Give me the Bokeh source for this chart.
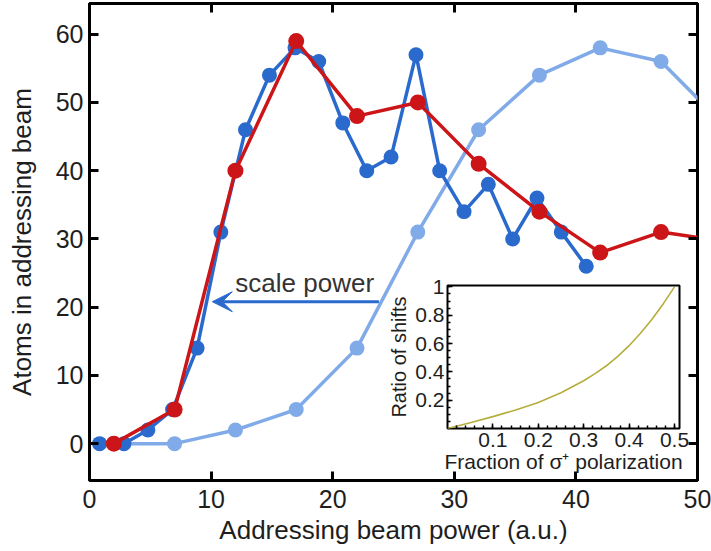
from bokeh.plotting import figure
from bokeh.models import (LinearAxis, FixedTicker, Arrow, VeeHead, Label,
                          NumeralTickFormatter, CustomJSTickFormatter)
from bokeh.layouts import column
from bokeh.embed import file_html
from bokeh.resources import INLINE

# ---- data ----
scaled_x = [0.83, 2.83, 4.8, 6.83, 8.85, 10.8, 12.83, 14.8, 16.9, 18.85, 20.83,
            22.8, 24.8, 26.85, 28.8, 30.8, 32.8, 34.8, 36.8, 38.8, 40.85]
scaled_y = [0, 0, 2, 5, 14, 31, 46, 54, 58, 56, 47, 40, 42, 57, 40, 34, 38, 30, 36, 31, 26]

red_x = [2, 7, 12, 17, 22, 27, 32, 37, 42, 47, 52]
red_y = [0, 5, 40, 59, 48, 50, 41, 34, 28, 31, 29.7]

light_x = [2, 7, 12, 17, 22, 27, 32, 37, 42, 47, 52]
light_y = [0, 0, 2, 5, 14, 31, 46, 54, 58, 56, 47]

x_ticks = [0, 10, 20, 30, 40, 50]
y_ticks = [0, 10, 20, 30, 40, 50, 60]

inset_frac = [0, 0.05, 0.1, 0.15, 0.2, 0.25, 0.3, 0.325, 0.35, 0.375,
              0.4, 0.425, 0.45, 0.475, 0.5]
inset_ratio = [0, 0.041, 0.084, 0.13, 0.184, 0.252, 0.337, 0.388, 0.443, 0.51,
               0.585, 0.673, 0.77, 0.88, 1.0]
inset_x_ticks = [0.1, 0.2, 0.3, 0.4, 0.5]
inset_y_ticks = [0.2, 0.4, 0.6, 0.8, 1.0]

arrow_start = (23.8, 20.8)
arrow_end = (10.1, 20.8)
label_pos = (17.7, 23.5)

# ---- colours / fonts ----
DARK = "#2a6acd"
RED = "#cc1518"
LIGHT = "#80abe8"
OLIVE = "#b5ad3c"
TXT = "#1e1e1e"
FONT = "Liberation Sans"

# main frame placement on the page
FR_L, FR_T, FR_W, FR_H = 89, 3, 608, 477
M_L, M_T, M_R, M_B = 110, 20, 14, 71

p = figure(frame_width=FR_W, frame_height=FR_H, x_range=(0, 50), y_range=(-5.4, 64.5),
           output_backend="svg", toolbar_location=None,
           min_border_left=M_L, min_border_right=M_R, min_border_top=M_T,
           min_border_bottom=M_B)
p.grid.visible = False
p.outline_line_color = "black"
p.outline_line_width = 3
p.background_fill_color = "white"

# main axes
p.xaxis.ticker = FixedTicker(ticks=x_ticks)
p.yaxis.ticker = FixedTicker(ticks=y_ticks)
for ax in (p.xaxis[0], p.yaxis[0]):
    ax.axis_line_color = None
    ax.minor_tick_line_color = None
    ax.minor_tick_out = 0
    ax.major_tick_in = 9
    ax.major_tick_out = 0
    ax.major_tick_line_width = 3
    ax.major_label_text_font = FONT
    ax.major_label_text_font_size = "25px"
    ax.major_label_text_color = TXT
    ax.axis_label_text_font = FONT
    ax.axis_label_text_font_size = "26px"
    ax.axis_label_text_font_style = "normal"
    ax.axis_label_text_color = TXT
p.xaxis.major_label_standoff = 9
p.yaxis.major_label_standoff = 6
p.xaxis.axis_label = "Addressing beam power (a.u.)"
p.xaxis.axis_label_standoff = 4
p.yaxis.axis_label = "Atoms in addressing beam"
p.yaxis.axis_label_standoff = 16

blank = CustomJSTickFormatter(code="return ''")
top_ax = LinearAxis(ticker=FixedTicker(ticks=x_ticks), major_tick_in=9, major_tick_out=0,
                    minor_tick_out=0, major_tick_line_width=3, axis_line_color=None,
                    minor_tick_line_color=None, formatter=blank,
                    major_label_standoff=0)
right_ax = LinearAxis(ticker=FixedTicker(ticks=y_ticks), major_tick_in=9, major_tick_out=0,
                      minor_tick_out=0, major_tick_line_width=3, axis_line_color=None,
                      minor_tick_line_color=None, formatter=blank,
                      major_label_standoff=0)
p.add_layout(top_ax, "above")
p.add_layout(right_ax, "right")

# series
p.line(light_x, light_y, line_color=LIGHT, line_width=3.5)
p.scatter(light_x, light_y, size=15, fill_color=LIGHT, line_color=None)
p.line(scaled_x, scaled_y, line_color=DARK, line_width=3.5)
p.scatter(scaled_x, scaled_y, size=15, fill_color=DARK, line_color=None)
p.line(red_x, red_y, line_color=RED, line_width=3.5)
p.scatter(red_x, red_y, size=16, fill_color=RED, line_color=None)

# arrow + label
p.add_layout(Arrow(end=VeeHead(size=20, fill_color=DARK, line_color=DARK, line_width=1),
                   x_start=arrow_start[0], y_start=arrow_start[1],
                   x_end=arrow_end[0], y_end=arrow_end[1],
                   line_color=DARK, line_width=3))
p.add_layout(Label(x=label_pos[0], y=label_pos[1], text="scale power",
                   text_align="center", text_baseline="alphabetic",
                   text_font=FONT, text_font_size="26px", text_color="#333333"))
p.styles = {"position": "relative", "left": f"{FR_L - M_L}px", "top": f"{FR_T - M_T}px"}

# ---- inset ----
IF_L, IF_T, IF_W, IF_H = 447, 285, 232, 143
IN_L, IN_R, IN_T, IN_B = 110, 30, 10, 60
inset = figure(frame_width=IF_W, frame_height=IF_H,
               x_range=(0, 0.511), y_range=(0, 1.01),
               output_backend="svg", toolbar_location=None,
               min_border_left=IN_L, min_border_right=IN_R, min_border_top=IN_T,
               min_border_bottom=IN_B)
inset.grid.visible = False
inset.outline_line_color = "black"
inset.outline_line_width = 2
inset.border_fill_color = None
inset.background_fill_color = "white"
inset.xaxis.ticker = FixedTicker(ticks=inset_x_ticks,
                                 minor_ticks=[round(0.02 * i, 2) for i in range(1, 26)])
inset.yaxis.ticker = FixedTicker(ticks=inset_y_ticks,
                                 minor_ticks=[round(0.05 * i, 2) for i in range(1, 21)])
for ax in (inset.xaxis[0], inset.yaxis[0]):
    ax.axis_line_color = None
    ax.major_tick_in = 5
    ax.major_tick_out = 0
    ax.minor_tick_in = 3
    ax.minor_tick_out = 0
    ax.major_tick_line_width = 1.5
    ax.minor_tick_line_width = 1.5
    ax.formatter = NumeralTickFormatter(format="0.[0]")
    ax.major_label_text_font = FONT
    ax.major_label_text_font_size = "21px"
    ax.major_label_text_color = TXT
    ax.axis_label_text_font = FONT
    ax.axis_label_text_font_style = "normal"
    ax.axis_label_text_color = TXT
inset.xaxis.axis_label_text_font_size = "21px"
inset.yaxis.axis_label_text_font_size = "20px"
inset.xaxis.major_label_standoff = 4
inset.yaxis.major_label_standoff = 3
inset.xaxis.axis_label = "Fraction of σ⁺ polarization"
inset.yaxis.axis_label = "Ratio of shifts"
inset.xaxis.axis_label_standoff = 0
inset.yaxis.axis_label_standoff = 2
inset.line(inset_frac, inset_ratio, line_color=OLIVE, line_width=1.6)
inset.styles = {"position": "absolute", "left": f"{IF_L - IN_L}px", "top": f"{IF_T - IN_T}px"}

layout = column(p, inset)
open("out.html", "w").write(file_html(layout, INLINE))
